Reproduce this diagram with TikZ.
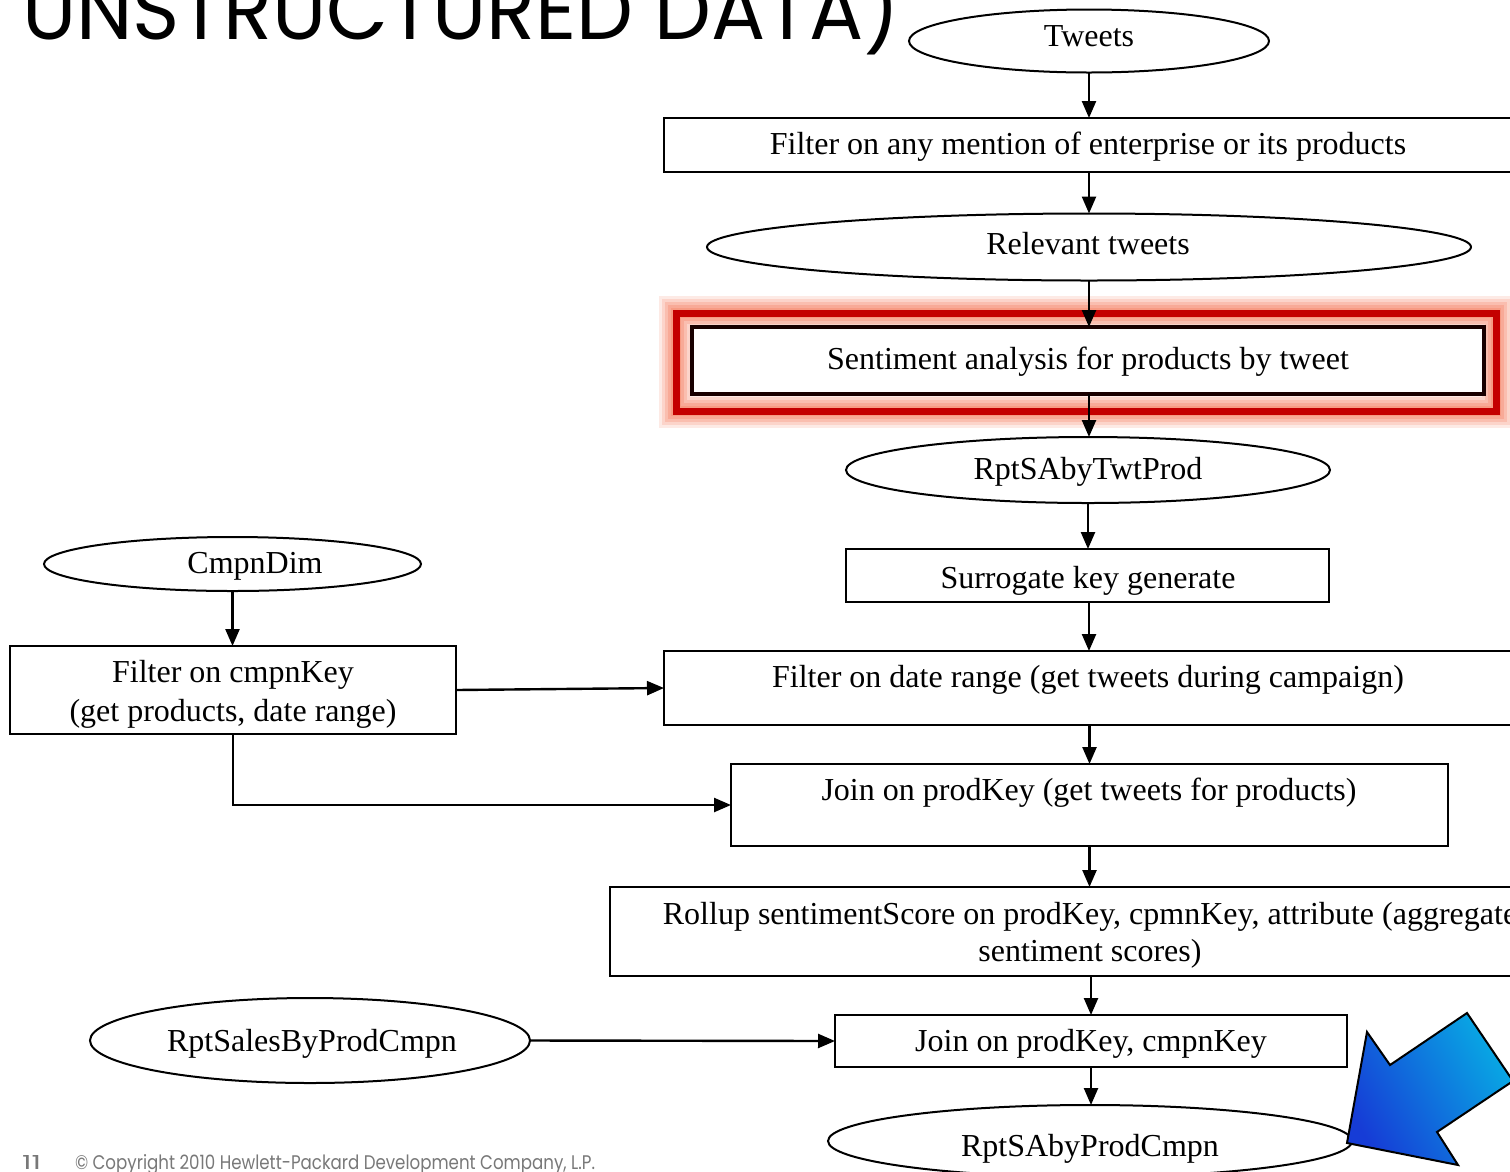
\documentclass[tikz,border=0pt]{standalone}
\usepackage{fontspec}
\setmainfont{Liberation Serif}
\newfontfamily\slidefont{Poppins}
\usetikzlibrary{arrows.meta,shapes.geometric}
\definecolor{framered}{RGB}{196,0,0}
\definecolor{glowred}{RGB}{245,125,95}
\definecolor{bluedeep}{RGB}{22,60,214}
\definecolor{bluelight}{RGB}{8,170,228}
\definecolor{footgray}{RGB}{120,120,120}

\begin{document}
\begin{tikzpicture}[x=1pt,y=-1pt,
  every node/.style={font=\fontsize{32}{38}\selectfont, outer sep=0pt},
  box/.style={draw, line width=2pt, rectangle, inner sep=0pt},
  oval/.style={draw, line width=2pt, ellipse, inner sep=0pt},
  lbl/.style={anchor=base, inner sep=0pt},
  arr/.style={line width=2.4pt, -{Triangle[length=17pt,width=14pt]}},
]
\useasboundingbox (0,0) rectangle (1510,1171);
\clip (0,0) rectangle (1510,1171);

% slide title and footer
\node[anchor=base west, inner sep=0pt] (title) at (22,39)
  {\resizebox{878pt}{78pt}{\slidefont UNSTRUCTURED DATA)}};
\node[anchor=base west, inner sep=0pt, text=footgray] (pagenum) at (22,1169)
  {\resizebox{19pt}{14pt}{\slidefont 11}};
\node[anchor=base west, inner sep=0pt, text=footgray] (copyright) at (75,1169)
  {\resizebox{520pt}{15pt}{\slidefont \textcopyright{} Copyright 2010 Hewlett-Packard Development Company, L.P.}};

% right-hand processing chain
\node[oval, minimum width=360pt, minimum height=63pt] (tw) at (1089,41) {};
\node[lbl] (twt) at (1089,46) {Tweets};

\node[box, minimum width=848pt, minimum height=54pt] (f1) at (1088,145) {};
\node[lbl] (f1t) at (1088,154) {Filter on any mention of enterprise or its products};

\node[oval, minimum width=764pt, minimum height=67pt] (rel) at (1089,247) {};
\node[lbl] (relt) at (1088,254) {Relevant tweets};

% highlighted step with a soft red glow
\foreach \w/\o in {34/0.16,28/0.2,22/0.25,16/0.3,10/0.35} {
  \draw[glowred, line width=\w pt, opacity=\o] (676,313) rectangle (1496,411);
}
\draw[framered, line width=7pt] (676,313) rectangle (1496,411);
\node[box, line width=4pt, draw=black!90!red, fill=white, minimum width=792pt, minimum height=67pt] (sa) at (1088,360.5) {};
\node[lbl] (sat) at (1088,369) {Sentiment analysis for products by tweet};

\node[oval, minimum width=484pt, minimum height=66pt] (rtp) at (1088,470) {};
\node[lbl] (rtpt) at (1088,479) {RptSAbyTwtProd};

\node[box, minimum width=483pt, minimum height=53pt] (sk) at (1087.5,575.5) {};
\node[lbl] (skt) at (1088,588) {Surrogate key generate};

\node[box, minimum width=848pt, minimum height=74pt] (fd) at (1088,688) {};
\node[lbl] (fdt) at (1088,687) {Filter on date range (get tweets during campaign)};

\node[box, minimum width=717pt, minimum height=82pt] (jp) at (1089.5,805) {};
\node[lbl] (jpt) at (1089,800) {Join on prodKey (get tweets for products)};

\node[box, minimum width=960pt, minimum height=89pt] (ru) at (1090,931.5) {};
\node[lbl] (rut1) at (1090,924) {Rollup sentimentScore on prodKey, cpmnKey, attribute (aggregate};
\node[lbl] (rut2) at (1090,961) {sentiment scores)};

\node[box, minimum width=512pt, minimum height=52pt] (jpc) at (1091,1041) {};
\node[lbl] (jpct) at (1091,1051) {Join on prodKey, cmpnKey};

\node[oval, minimum width=524pt, minimum height=72pt] (rpc) at (1090,1141) {};
\node[lbl] (rpct) at (1090,1156) {RptSAbyProdCmpn};

% left-hand inputs
\node[oval, minimum width=377pt, minimum height=54pt] (cd) at (232.5,564) {};
\node[lbl] (cdt) at (255,573) {CmpnDim};

\node[box, minimum width=446pt, minimum height=88pt] (fc) at (233,690) {};
\node[lbl] (fct1) at (233,682) {Filter on cmpnKey};
\node[lbl] (fct2) at (233,721) {(get products, date range)};

\node[oval, minimum width=440pt, minimum height=85pt] (rs) at (310,1040.5) {};
\node[lbl] (rst) at (312,1051) {RptSalesByProdCmpn};

% connectors
\draw[arr] (tw.south) -- (tw.south |- f1.north);
\draw[arr] (tw.south |- f1.south) -- (tw.south |- rel.north);
\draw[arr] (rel.south) -- (rel.south |- sa.north);
\draw[arr] (rel.south |- sa.south) -- (rel.south |- rtp.north);
\draw[arr] (rtp.south) -- (rtp.south |- sk.north);
\draw[arr] (rel.south |- sk.south) -- (rel.south |- fd.north);
\draw[arr] (jp.north |- fd.south) -- (jp.north);
\draw[arr] (jp.south) -- (jp.south |- ru.north);
\draw[arr] (jpc.north |- ru.south) -- (jpc.north);
\draw[arr] (jpc.south) -- (jpc.south |- rpc.north);
\draw[arr] (cd.south) -- (cd.south |- fc.north);
\draw[arr] (fc.east) -- (fd.west);
\draw[arr] (fc.south) |- (jp.west);
\draw[arr] (rs.east) -- (jpc.west);

% pointer arrow
\shadedraw[left color=bluelight, right color=bluedeep, shading angle=-60, line width=2pt, line join=miter]
  (1347,1143) -- (1367,1032) -- (1390,1065) -- (1467,1013) -- (1513,1081)
  -- (1437,1132) -- (1458,1165) -- cycle;
\end{tikzpicture}
\end{document}
